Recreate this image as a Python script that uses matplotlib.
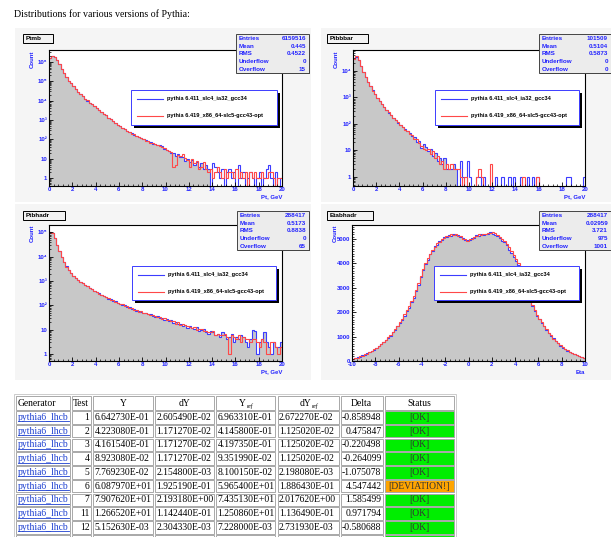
import numpy as np
import matplotlib.pyplot as plt
from matplotlib.patches import Rectangle
from matplotlib.ticker import MultipleLocator, LogLocator, FuncFormatter, NullFormatter

plt.rcParams['font.family'] = ['Liberation Sans', 'DejaVu Sans']
plt.rcParams['font.weight'] = 'bold'
plt.rcParams['axes.unicode_minus'] = False

W, H = 611, 537

# histogram bins
pt_edges = np.linspace(0, 20, 101)
eta_edges = np.linspace(-10, 10, 101)

legend_labels = ['pythia 6.411_slc4_ia32_gcc34', 'pythia 6.419_x86_64-slc5-gcc43-opt']
stat_names = ['Entries', 'Mean', 'RMS', 'Underflow', 'Overflow']

# Ptmb (counts per 0.2 GeV bin), old = 6.411 (blue), new = 6.419 (red)
ptmb_old = [1585000, 1995000, 1778000, 1202000, 759000, 417000, 263000, 158000, 107000, 75900,
            53700, 38900, 28800, 21900, 16600, 12600, 10000, 7940, 6310, 5010,
            3980, 3240, 2630, 2140, 1740, 1320, 1070, 871, 708, 575,
            468, 398, 331, 282, 240, 204, 178, 151, 132, 115,
            100, 89, 79, 71, 60, 58, 50, 52, 47, 33,
            27, 26, 20, 21, 14, 17, 12, 13, 8, 10,
            7, 9, 5, 7, 4, 6, 3, 5, 3, 0,
            6, 4, 2, 1, 3, 0, 2, 3, 1, 2,
            0, 5, 1, 2, 0, 1, 2, 1, 0, 1,
            2, 0, 1, 3, 5, 1, 0, 2, 0, 1]
ptmb_new = [1620000, 2010000, 1760000, 1190000, 768000, 421000, 260000, 160000, 105000, 76800,
            54200, 38400, 29100, 21500, 16800, 12400, 10100, 7850, 6400, 4950,
            4020, 3200, 2660, 2110, 1760, 1300, 1080, 860, 715, 568,
            472, 392, 336, 278, 244, 200, 180, 148, 134, 113,
            102, 87, 81, 69, 62, 57, 49, 44, 40, 35,
            30, 24, 23, 4, 5, 16, 14, 17, 11, 9,
            4, 10, 6, 8, 3, 4, 7, 3, 2, 3,
            1, 2, 4, 2, 1, 3, 1, 2, 2, 1,
            3, 1, 2, 1, 2, 0, 2, 1, 2, 1,
            1, 2, 1, 1, 2, 2, 1, 0, 1, 1]
ptmb_stats = ['6159516', '0.445', '0.4522', '0', '15']

# Ptbbbar
ptbb_old = [28200, 35500, 26300, 15800, 9550, 5750, 3800, 2630, 1860, 1320,
            977, 741, 562, 437, 339, 269, 214, 170, 138, 112,
            91, 76, 63, 52, 44, 34, 33, 20, 23, 12,
            17, 13, 9, 11, 6, 8, 4, 5, 3, 5,
            2, 2, 2, 3, 2, 0, 4, 1, 0, 4,
            1, 0, 0, 1, 1, 0, 1, 0, 0, 0,
            0, 1, 0, 0, 1, 0, 0, 1, 0, 1,
            0, 0, 1, 0, 0, 1, 0, 1, 0, 1,
            0, 0, 0, 0, 0, 0, 0, 0, 0, 0,
            0, 0, 1, 1, 0, 0, 0, 0, 0, 1]
ptbb_new = [29000, 35900, 25800, 16100, 9400, 5820, 3760, 2670, 1830, 1340,
            960, 752, 555, 444, 332, 274, 210, 173, 134, 115,
            88, 78, 61, 54, 42, 38, 27, 26, 18, 15,
            11, 10, 11, 7, 9, 5, 6, 3, 4, 2,
            3, 2, 3, 2, 2, 2, 1, 0, 1, 0,
            0, 0, 0, 1, 2, 1, 0, 0, 0, 3,
            0, 0, 0, 0, 0, 0, 0, 0, 0, 0,
            0, 0, 0, 1, 0, 0, 0, 0, 0, 1,
            0, 0, 0, 0, 0, 0, 0, 0, 0, 0,
            0, 0, 0, 0, 0, 0, 0, 0, 0, 0]
ptbb_stats = ['101509', '0.5104', '0.5873', '0', '0']

# Ptbhadr
ptbh_old = [100000, 93300, 60300, 31600, 16600, 9550, 6030, 3980, 2820, 2090,
            1580, 1320, 1100, 933, 794, 692, 603, 525, 457, 398,
            347, 309, 275, 245, 219, 188, 180, 152, 146, 126,
            119, 104, 101, 86, 83, 71, 70, 61, 60, 55,
            49, 50, 43, 44, 38, 34, 36, 29, 31, 26,
            27, 23, 24, 19, 21, 18, 17, 14, 16, 12,
            14, 12, 11, 13, 9, 10, 11, 8, 7, 9,
            8, 6, 7, 5, 8, 6, 4, 5, 7, 3,
            5, 4, 6, 5, 3, 2, 4, 10, 9, 1,
            3, 4, 8, 3, 2, 1, 3, 2, 2, 3]
ptbh_new = [101000, 92800, 60800, 31300, 16800, 9480, 6080, 3950, 2850, 2070,
            1600, 1310, 1110, 925, 801, 686, 610, 520, 462, 394,
            350, 305, 279, 242, 222, 197, 171, 161, 139, 131,
            115, 109, 96, 91, 79, 76, 66, 65, 56, 59,
            48, 47, 44, 40, 40, 35, 33, 33, 28, 29,
            25, 24, 22, 23, 18, 20, 16, 17, 15, 14,
            13, 12, 13, 10, 11, 11, 9, 9, 8, 8,
            9, 6, 7, 6, 6, 7, 5, 1, 6, 5,
            4, 6, 3, 5, 4, 4, 3, 4, 4, 3,
            2, 4, 3, 1, 1, 3, 3, 2, 1, 2]
ptbh_stats = ['288417', '0.5173', '0.8838', '0', '65']

# Etabhadr
etab_old = [75, 105, 150, 172, 228, 252, 318, 352, 428, 470,
            548, 598, 702, 760, 872, 960, 1040, 1175, 1275, 1430,
            1540, 1700, 1860, 2030, 2190, 2400, 2600, 2880, 3130, 3460,
            3720, 3980, 4160, 4390, 4510, 4700, 4770, 4930, 4980, 5090,
            5090, 5170, 5140, 5200, 5150, 5170, 5070, 5060, 4950, 4970,
            4940, 5040, 5060, 5150, 5130, 5210, 5170, 5190, 5210, 5270,
            5220, 5180, 5110, 5040, 4930, 4860, 4750, 4560, 4420, 4260,
            4110, 3950, 3660, 3380, 3070, 2790, 2490, 2260, 2040, 1860,
            1720, 1560, 1450, 1280, 1140, 1010, 930, 800, 740, 630,
            550, 500, 420, 385, 320, 295, 245, 205, 165, 115]
etab_new = [85, 115, 135, 188, 212, 268, 305, 368, 412, 492,
            532, 622, 680, 785, 850, 975, 1075, 1185, 1305, 1440,
            1590, 1740, 1915, 2080, 2270, 2450, 2680, 2930, 3210, 3500,
            3790, 4010, 4230, 4370, 4570, 4660, 4830, 4890, 5020, 5050,
            5130, 5140, 5190, 5160, 5190, 5130, 5120, 5020, 5000, 4930,
            4990, 5000, 5100, 5110, 5190, 5160, 5210, 5220, 5250, 5260,
            5270, 5230, 5170, 5080, 5020, 4930, 4810, 4680, 4490, 4330,
            4190, 4000, 3740, 3420, 3130, 2810, 2550, 2280, 2080, 1900,
            1740, 1600, 1430, 1320, 1160, 1050, 910, 840, 720, 650,
            570, 480, 440, 375, 340, 285, 255, 215, 175, 125]
etab_stats = ['288417', '0.02959', '3.721', '975', '1001']

# comparison table
tbl_header = ['Generator', 'Test', 'Y', 'dY', 'Y', 'dY', 'Delta', 'Status']
tbl_gen = 'pythia6_lhcb'
tbl_test = ['1', '2', '3', '4', '5', '6', '7', '11', '12']
tbl_y = ['6.642730E-01', '4.223080E-01', '4.161540E-01', '8.923080E-02', '7.769230E-02',
         '6.087970E+01', '7.907620E+01', '1.266520E+01', '5.152630E-03']
tbl_dy = ['2.605490E-02', '1.171270E-02', '1.171270E-02', '1.171270E-02', '2.154800E-03',
          '1.925190E-01', '2.193180E+00', '1.142440E-01', '2.304330E-03']
tbl_yref = ['6.963310E-01', '4.145800E-01', '4.197350E-01', '9.351990E-02', '8.100150E-02',
            '5.965400E+01', '7.435130E+01', '1.250860E+01', '7.228000E-03']
tbl_dyref = ['2.672270E-02', '1.125020E-02', '1.125020E-02', '1.125020E-02', '2.198080E-03',
             '1.886430E-01', '2.017620E+00', '1.136490E-01', '2.731930E-03']
tbl_delta = ['-0.858948', '0.475847', '-0.220498', '-0.264099', '-1.075078',
             '4.547442', '1.585499', '0.971794', '-0.580688']
tbl_status = ['[OK]', '[OK]', '[OK]', '[OK]', '[OK]', '[DEVIATION!]', '[OK]', '[OK]', '[OK]']

BLUE = '#3c3cff'
RED = '#ff4848'
GRAY = '#c8c8c8'
LAB = '#2222ff'
SERIF = 'Liberation Serif'
SUP = str.maketrans('0123456789', '⁰¹²³⁴⁵⁶⁷⁸⁹')


def log_label(v, pos):
    n = int(round(np.log10(v)))
    if n == 0:
        return '1'
    if n == 1:
        return '10'
    return '10' + str(n).translate(SUP)


fig = plt.figure(figsize=(W / 100, H / 100), dpi=100)

page = fig.add_axes([0, 0, 1, 1], zorder=0)
page.set_xlim(0, W)
page.set_ylim(H, 0)
page.axis('off')
over = fig.add_axes([0, 0, 1, 1], zorder=10)
over.set_xlim(0, W)
over.set_ylim(H, 0)
over.axis('off')

page.text(14, 14, 'Distributions for various versions of Pythia:', family=SERIF,
          fontweight='normal', fontsize=7.1, va='center')

# light grey canvas pads
for x0, y0, x1, y1 in [(15, 28, 311, 202), (321, 28, 612, 202),
                       (15, 204, 311, 380), (321, 204, 612, 380)]:
    page.add_patch(Rectangle((x0, y0), x1 - x0, y1 - y0, fc='#f5f5f5', ec='none'))


def shadow_box(x0, y0, x1, y1, fc, ec, off):
    over.add_patch(Rectangle((x0 + off, y0 + off), x1 - x0, y1 - y0, fc='black', ec='none'))
    over.add_patch(Rectangle((x0, y0), x1 - x0, y1 - y0, fc=fc, ec=ec, lw=0.7))


def panel(frame, edges, old, new, ylim, log, xtitle, title, tbox, stats, sbox, lbox):
    l, t, r, b = frame
    ax = fig.add_axes([l / W, 1 - b / H, (r - l) / W, (b - t) / H], zorder=5)
    old = np.asarray(old, float)
    new = np.asarray(new, float)
    if log:
        ax.set_yscale('log')
        # ROOT stops the log-scale fill at the first empty bin
        empty = np.flatnonzero(old == 0)
        n = empty[0] if empty.size else old.size
        ax.stairs(old[:n], edges[:n + 1], fill=True, color=GRAY, baseline=1e-3)
        old = np.where(old > 0, old, 1e-3)
        new = np.where(new > 0, new, 1e-3)
    else:
        ax.stairs(old, edges, fill=True, color=GRAY)
    ax.stairs(old, edges, color=BLUE, lw=0.8, baseline=None)
    ax.stairs(new, edges, color=RED, lw=0.8, baseline=None)
    ax.set_xlim(edges[0], edges[-1])
    ax.set_ylim(*ylim)

    ax.xaxis.set_major_locator(MultipleLocator(2))
    ax.xaxis.set_minor_locator(MultipleLocator(0.4))
    ax.xaxis.set_major_formatter(FuncFormatter(lambda v, p: '%d' % round(v)))
    if log:
        ax.yaxis.set_major_locator(LogLocator(base=10, numticks=20))
        ax.yaxis.set_minor_locator(LogLocator(base=10, subs=np.arange(2, 10), numticks=20))
        ax.yaxis.set_major_formatter(FuncFormatter(log_label))
        ax.yaxis.set_minor_formatter(NullFormatter())
    else:
        ax.yaxis.set_major_locator(MultipleLocator(1000))
        ax.yaxis.set_minor_locator(MultipleLocator(100))
    ax.tick_params(which='both', direction='in', top=False, right=False,
                   labelcolor=LAB, labelsize=4.3)
    ax.tick_params(axis='x', pad=1.0)
    ax.tick_params(axis='y', pad=1.5)
    ax.tick_params(which='major', length=3, width=0.6)
    ax.tick_params(which='minor', length=1.5, width=0.5)
    for s in ax.spines.values():
        s.set_linewidth(0.8)

    over.text(l - 17, t, 'Count', rotation=90, ha='center', va='top', color=LAB, fontsize=4.3)
    over.text(r, b + 11, xtitle, ha='right', va='center', color=LAB, fontsize=4.3)

    # title box
    x0, y0, x1, y1 = tbox
    shadow_box(x0, y0, x1, y1, '#f2f2f2', 'black', 1.2)
    over.text(x0 + 3, (y0 + y1) / 2, title, va='center', fontsize=4.6)

    # stats box
    x0, y0, x1, y1 = sbox
    shadow_box(x0, y0, x1, y1, '#ececec', '#444444', 1.2)
    for i, (nm, val) in enumerate(zip(stat_names, stats)):
        yy = y0 + 4.4 + i * 7.7
        over.text(x0 + 3, yy, nm, color=LAB, fontsize=4.5, va='center')
        over.text(x1 - 3, yy, val, color=LAB, fontsize=4.5, va='center', ha='right')

    # legend
    x0, y0, x1, y1 = lbox
    shadow_box(x0, y0, x1, y1, 'white', BLUE, 3)
    for k, (lab, col) in enumerate(zip(legend_labels, [BLUE, RED])):
        yy = y0 + 8.7 + k * 17
        over.plot([x0 + 6, x0 + 32], [yy, yy], color=col, lw=0.8)
        over.text(x0 + 36, yy, lab, fontsize=4.1, va='center')


panel((49, 50, 282, 186), pt_edges, ptmb_old, ptmb_new, (0.4, 4.0e6), True, 'Pt, GeV',
      'Ptmb', (23, 34, 53, 43), ptmb_stats, (236, 34, 309, 73), (131, 90, 277, 125))
panel((353, 50, 585, 186), pt_edges, ptbb_old, ptbb_new, (0.44, 6.3e4), True, 'Pt, GeV',
      'Ptbbbar', (327, 34, 368, 43), ptbb_stats, (539, 34, 611, 73), (435, 90, 579, 125))
panel((49, 225, 282, 361), pt_edges, ptbh_old, ptbh_new, (0.52, 2.0e5), True, 'Pt, GeV',
      'Ptbhadr', (23, 211, 65, 220), ptbh_stats, (237, 211, 309, 250), (132, 266, 276, 300))
panel((352, 225, 585, 361), eta_edges, etab_old, etab_new, (0, 5575), False, 'Eta',
      'Etabhadr', (327, 211, 373, 220), etab_stats, (539, 211, 611, 250), (434, 266, 579, 300))

# ---- table ----
cols = [(16, 54), (72, 19), (93, 60), (155, 58.5), (216, 59), (277.5, 61), (340.5, 42), (384.5, 69.5)]
CELL_EC = '#a8a8a8'
FS = 6.9
page.add_patch(Rectangle((14, 394), 442, 150, fc='white', ec='#cccccc', lw=0.7))


def cell(x, y, w, h, fc='white'):
    page.add_patch(Rectangle((x, y), w, h, fc=fc, ec=CELL_EC, lw=0.7))


hy0, hh = 396, 14
for (x, w), name in zip(cols, tbl_header):
    cell(x, hy0, w, hh)
cy = hy0 + hh / 2
page.text(cols[0][0] + 1.5, cy, tbl_header[0], family=SERIF, fontweight='normal', fontsize=FS, va='center')
page.text(cols[1][0] + 1, cy, tbl_header[1], family=SERIF, fontweight='normal', fontsize=FS, va='center')
for j in range(2, 8):
    x, w = cols[j]
    name = tbl_header[j]
    if j in (4, 5):
        page.text(x + w / 2 - 3, cy, name, family=SERIF, fontweight='normal', fontsize=FS,
                  va='center', ha='center')
        page.text(x + w / 2 + (1 if j == 4 else 4), cy + 3, 'ref', family=SERIF, fontweight='normal',
                  fontsize=4.3, va='center', ha='left', style='italic')
    else:
        page.text(x + w / 2, cy, name, family=SERIF, fontweight='normal', fontsize=FS,
                  va='center', ha='center')

row_h, row_step = 12.6, 13.77
nrows = len(tbl_test)
for i in range(nrows + 1):
    y0 = 411 + i * row_step
    ym = y0 + row_h / 2
    for j, (x, w) in enumerate(cols):
        fc = 'white'
        if j == 7:
            fc = '#ffa500' if i < nrows and 'DEVIATION' in tbl_status[i] else '#00ee00'
        cell(x, y0, w, row_h, fc)
    # generator link
    gx = cols[0][0] + 1.5
    page.text(gx, ym, tbl_gen, family=SERIF, fontweight='normal', fontsize=FS, va='center',
              color='#1c3fd0')
    page.plot([gx, cols[0][0] + cols[0][1] - 1], [ym + 4, ym + 4], color='#1c3fd0', lw=0.6)
    if i < nrows:
        kw = dict(family=SERIF, fontweight='normal', fontsize=FS, va='center')
        page.text(cols[1][0] + cols[1][1] - 1.5, ym, tbl_test[i], ha='right', **kw)
        for j, vals in zip((2, 3, 4, 5), (tbl_y, tbl_dy, tbl_yref, tbl_dyref)):
            page.text(cols[j][0] + 1.5, ym, vals[i], ha='left', **kw)
        page.text(cols[6][0] + cols[6][1] - 1, ym, tbl_delta[i], ha='right', **kw)
        page.text(cols[7][0] + cols[7][1] / 2, ym, tbl_status[i], ha='center', color='#333333', **kw)
    else:
        page.text(cols[7][0] + cols[7][1] / 2, ym, '[OK]', ha='center', color='#333333',
                  family=SERIF, fontweight='normal', fontsize=FS, va='center')

fig.savefig('out.png', dpi=100)
